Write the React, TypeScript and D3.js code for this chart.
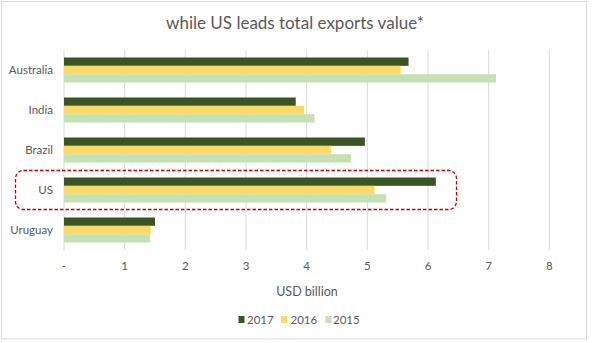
import React from "react";
import * as d3 from "d3";

const categories = ["Australia", "India", "Brazil", "US", "Uruguay"];
const seriesNames = ["2017", "2016", "2015"];
const values2017 = [5.68, 3.82, 4.96, 6.13, 1.5];
const values2016 = [5.55, 3.96, 4.4, 5.12, 1.43];
const values2015 = [7.12, 4.13, 4.73, 5.31, 1.42];
const tickValues = [0, 1, 2, 3, 4, 5, 6, 7, 8];
const tickLabels = ["-", "1", "2", "3", "4", "5", "6", "7", "8"];
const colors = ["#375623", "#ffd966", "#c5e0b4"];

const W = 594;
const H = 343;
const FONT = "Lato, 'Open Sans', sans-serif";

export default function App() {
  const x = d3.scaleLinear().domain([0, 8]).range([64, 549.3]);
  const y = d3
    .scaleBand<string>()
    .domain(categories)
    .range([50, 250])
    .paddingInner(0.375)
    .paddingOuter(0.1875);
  const inner = d3.scaleBand<string>().domain(seriesNames).range([0, y.bandwidth()]);
  const series = [values2017, values2016, values2015];

  const legendItems = [
    { name: "2017", sx: 238.5, tx: 247 },
    { name: "2016", sx: 281, tx: 290.5 },
    { name: "2015", sx: 325.5, tx: 333 },
  ];

  return (
    <svg
      width={W}
      height={H}
      style={{ position: "absolute", left: 0, top: 0, background: "#fff" }}
      fontFamily={FONT}
    >
      <rect x={1.5} y={1.5} width={585} height={337.5} fill="#fff" stroke="#d9d9d9" strokeWidth={1} />
      <text x={295} y={29} textAnchor="middle" fontSize={17} fill="#595959">
        while US leads total exports value*
      </text>
      {tickValues.map((t) => (
        <line key={"g" + t} x1={x(t)} x2={x(t)} y1={50} y2={250} stroke="#d9d9d9" strokeWidth={1} />
      ))}
      {categories.map((c, i) =>
        series.map((vals, s) => (
          <rect
            key={c + s}
            x={x(0)}
            y={(y(c) as number) + (inner(seriesNames[s]) as number)}
            width={x(vals[i]) - x(0)}
            height={inner.bandwidth()}
            fill={colors[s]}
          />
        ))
      )}
      {categories.map((c) => (
        <text
          key={"l" + c}
          x={53}
          y={(y(c) as number) + y.bandwidth() / 2 + 4}
          textAnchor="end"
          fontSize={11.5}
          fill="#595959"
        >
          {c}
        </text>
      ))}
      {tickValues.map((t, i) => (
        <text key={"t" + t} x={x(t)} y={270} textAnchor="middle" fontSize={11.5} fill="#595959">
          {tickLabels[i]}
        </text>
      ))}
      <text x={307} y={296} textAnchor="middle" fontSize={12.5} fill="#595959">
        USD billion
      </text>
      {legendItems.map((l, i) => (
        <g key={l.name}>
          <rect x={l.sx} y={316} width={6} height={7} fill={colors[i]} />
          <text x={l.tx} y={324} fontSize={11.5} fill="#595959">
            {l.name}
          </text>
        </g>
      ))}
      <rect
        x={15.5}
        y={170.5}
        width={441}
        height={39}
        rx={8}
        ry={8}
        fill="none"
        stroke="#c00000"
        strokeWidth={1.3}
        strokeDasharray="3.5,2"
      />
    </svg>
  );
}
